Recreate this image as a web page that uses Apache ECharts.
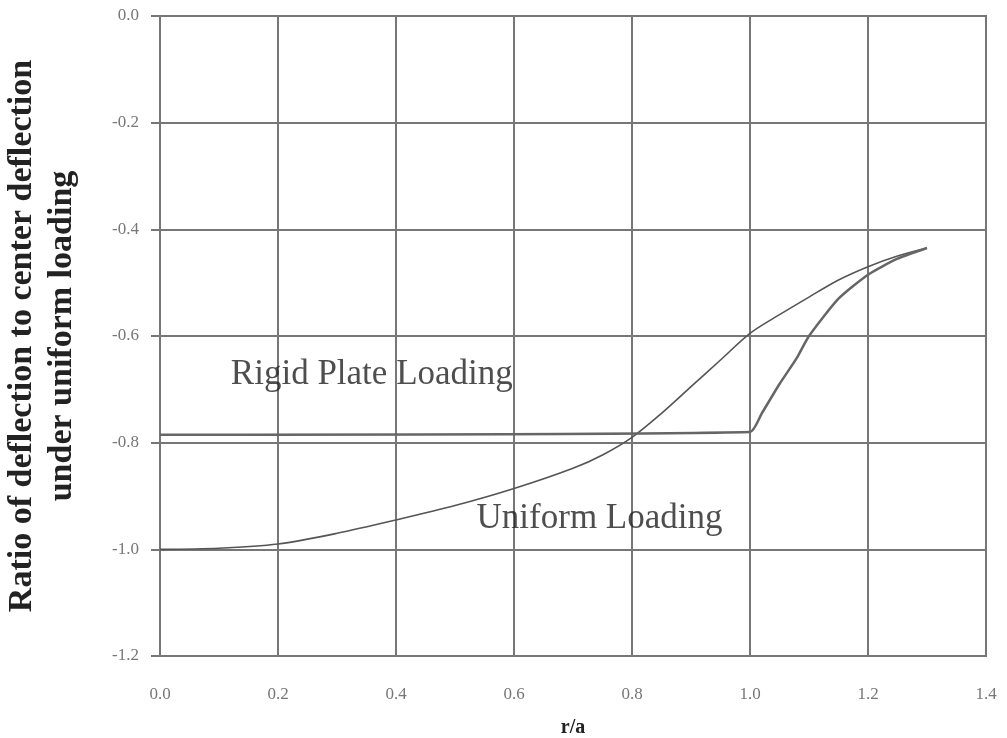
<!DOCTYPE html>
<html>
<head>
<meta charset="utf-8">
<script src="https://cdn.jsdelivr.net/npm/echarts@6/dist/echarts.min.js"></script>
<style>html,body{margin:0;padding:0;background:#fff}#c{width:1007px;height:738px}</style>
</head>
<body>
<div id="c"></div>
<script>
// r/a values and deflection ratios
const uniformX = [0, 0.1, 0.2, 0.3, 0.4, 0.5, 0.6, 0.7, 0.75, 0.8, 0.85, 0.9, 0.95, 1.0, 1.05, 1.1, 1.15, 1.2, 1.25, 1.3];
const uniformY = [-1.0, -0.998, -0.99, -0.97, -0.945, -0.918, -0.886, -0.848, -0.823, -0.79, -0.745, -0.695, -0.645, -0.595, -0.56, -0.527, -0.495, -0.47, -0.45, -0.435];
const rigidX = [0, 1.0, 1.02, 1.05, 1.08, 1.1, 1.15, 1.2, 1.25, 1.3];
const rigidY = [-0.785, -0.78, -0.745, -0.69, -0.64, -0.6, -0.53, -0.485, -0.455, -0.435];
const labels = [
  { text: 'Rigid Plate Loading', x: 0.359, y: -0.673 },
  { text: 'Uniform Loading', x: 0.745, y: -0.942 }
];

const chart = echarts.init(document.getElementById('c'));
const serif = '"Liberation Serif", "DejaVu Serif", serif';
chart.setOption({
  animation: false,
  grid: { left: 160, right: 21, top: 16, bottom: 82, outerBoundsMode: 'none', containLabel: false, show: true, borderColor: '#777', borderWidth: 2 },
  xAxis: {
    type: 'value', min: 0, max: 1.4, interval: 0.2,
    name: 'r/a', nameLocation: 'middle', nameGap: 62,
    nameTextStyle: { fontFamily: serif, fontWeight: 'bold', fontSize: 20, color: '#222' },
    axisLine: { show: true, lineStyle: { color: '#777', width: 2 } },
    axisTick: { show: false },
    axisLabel: { formatter: v => v.toFixed(1), margin: 30, fontFamily: serif, fontSize: 17, color: '#777' },
    splitLine: { show: true, lineStyle: { color: '#777', width: 2 } }
  },
  yAxis: {
    type: 'value', min: -1.2, max: 0, interval: 0.2,
    name: 'Ratio of deflection to center deflection\nunder uniform loading',
    nameLocation: 'middle', nameGap: 78, nameRotate: 90,
    nameTextStyle: { fontFamily: serif, fontWeight: 'bold', fontSize: 34, lineHeight: 40, color: '#222' },
    axisLine: { show: true, lineStyle: { color: '#777', width: 2 } },
    axisTick: { show: true, length: 9, inside: false, lineStyle: { color: '#777', width: 2 } },
    axisLabel: { formatter: v => v.toFixed(1), margin: 21, fontFamily: serif, fontSize: 17, color: '#777' },
    splitLine: { show: true, lineStyle: { color: '#777', width: 2 } }
  },
  series: [
    {
      type: 'line', data: uniformX.map((x, i) => [x, uniformY[i]]), smooth: 0.3, symbol: 'none',
      lineStyle: { color: '#555', width: 1.6 }
    },
    {
      type: 'line', data: rigidX.map((x, i) => [x, rigidY[i]]), smooth: 0.2, symbol: 'none',
      lineStyle: { color: '#666', width: 2.5 }
    },
    {
      type: 'scatter', symbolSize: 0, silent: true,
      data: labels.map(l => ({ value: [l.x, l.y], name: l.text })),
      label: { show: true, position: 'inside', formatter: p => p.name, fontFamily: serif, fontSize: 35, color: '#222' }
    }
  ]
});
</script>
</body>
</html>
